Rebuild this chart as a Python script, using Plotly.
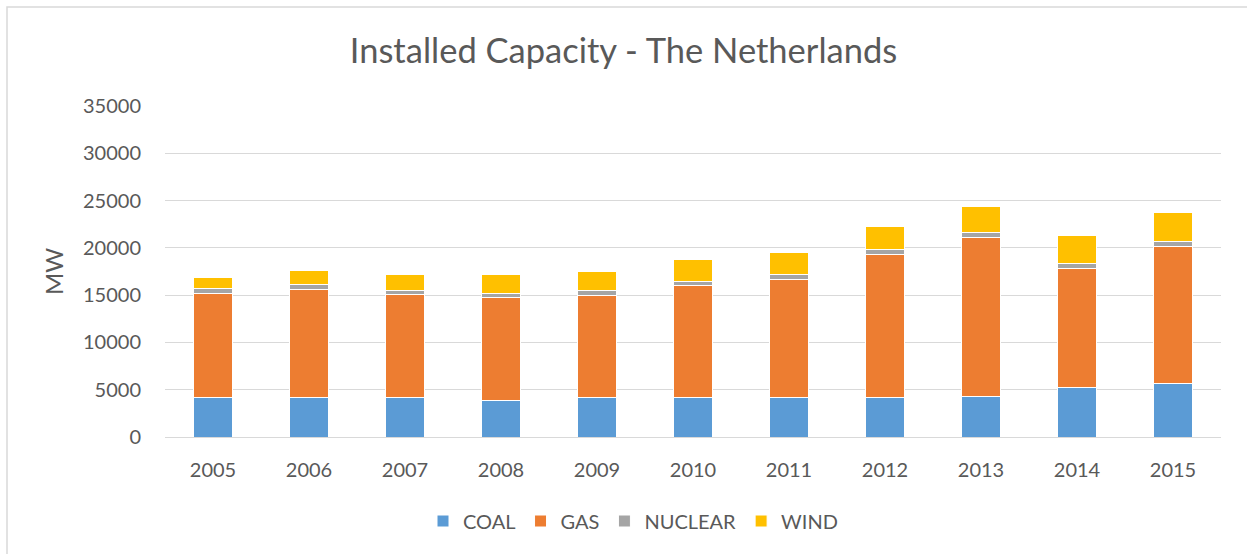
import plotly.graph_objects as go

years = ["2005", "2006", "2007", "2008", "2009", "2010", "2011", "2012", "2013", "2014", "2015"]
coal = [4225, 4225, 4225, 3870, 4225, 4170, 4170, 4170, 4280, 5200, 5660]
gas = [10990, 11370, 10810, 10880, 10735, 11850, 12520, 15170, 16830, 12660, 14500]
nuclear = [460, 530, 460, 457, 493, 460, 495, 495, 530, 530, 531]
wind = [1200, 1440, 1685, 1970, 2006, 2263, 2370, 2475, 2758, 2900, 3040]

series = [("COAL", coal, "#5B9BD5"), ("GAS", gas, "#ED7D31"),
          ("NUCLEAR", nuclear, "#A5A5A5"), ("WIND", wind, "#FFC000")]

FONT = "Lato"
GREY = "#595959"

fig = go.Figure()
for name, vals, col in series:
    fig.add_trace(go.Bar(x=years, y=vals, name=name,
                         marker=dict(color=col, line=dict(color="white", width=1))))

W, H = 1247, 554
L, R, T, B = 165, 26, 106, 117
pw, ph = W - L - R, H - T - B

def px_x(x):
    return (x - L) / pw

def px_y(y):
    return (H - B - y) / ph

fig.update_layout(
    width=W, height=H,
    barmode="stack", bargap=0.6,
    margin=dict(l=L, r=R, t=T, b=B),
    paper_bgcolor="white", plot_bgcolor="white",
    font=dict(family=FONT, color=GREY, size=20),
    title=dict(text="Installed Capacity - The Netherlands", x=0.5, xanchor="center",
               y=1 - 51 / H, yanchor="middle", font=dict(size=34.5, color=GREY, family=FONT)),
    legend=dict(orientation="h", x=px_x(633), xanchor="center", xref="paper",
                y=px_y(521), yanchor="middle", font=dict(size=20, color=GREY),
                itemwidth=30, traceorder="normal", itemclick=False),
    xaxis=dict(showgrid=False, showline=True, linecolor="#d9d9d9", linewidth=1,
               ticks="", ticklabelstandoff=15, tickfont=dict(size=20, color=GREY)),
    yaxis=dict(range=[0, 35000], dtick=5000, tickformat="d", showgrid=True,
               gridcolor="#d9d9d9", gridwidth=1, zeroline=False, showline=False,
               ticks="", ticklabelstandoff=23, tickfont=dict(size=20, color=GREY),
               title=dict(text="MW", standoff=12, font=dict(size=24, color=GREY))),
    shapes=[dict(type="rect", xref="paper", yref="paper",
                 x0=px_x(7), x1=px_x(1290), y0=px_y(600), y1=px_y(7),
                 line=dict(color="#d9d9d9", width=1.5), fillcolor="rgba(0,0,0,0)",
                 layer="below")],
)

fig.write_html("out.html", config={"displayModeBar": False},
               post_script="document.body.style.margin='0';document.body.style.overflow='hidden';")
